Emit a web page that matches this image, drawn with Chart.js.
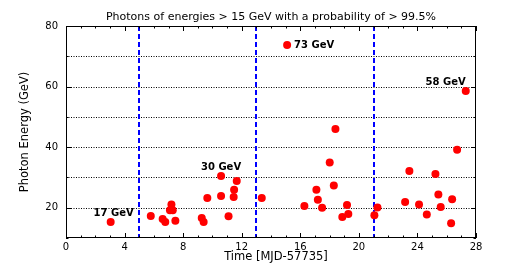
<!DOCTYPE html>
<html>
<head>
<meta charset="utf-8">
<script src="https://cdn.jsdelivr.net/npm/chart.js@4.4.1/dist/chart.umd.min.js"></script>
<style>
  html, body { margin: 0; padding: 0; background: #fff; }
  #wrap { width: 530px; height: 265px; }
</style>
</head>
<body>
<div id="wrap"><canvas id="photonChart" width="530" height="265"></canvas></div>
<script>
// photon arrival time (MJD-57735) and energy (GeV)
const times = [
  3.05, 5.79, 6.6, 6.78, 7.2, 7.1, 7.29, 7.47, 9.27, 9.4, 9.65, 10.59, 10.59, 11.1,
  11.45, 11.48, 11.66, 13.37, 15.1, 16.28, 17.1, 17.2, 17.49, 18.01, 18.29, 18.4,
  18.87, 19.19, 19.28, 21.06, 21.27, 23.16, 23.45, 24.11, 24.64, 25.23, 25.43, 25.59,
  26.3, 26.37, 26.71, 27.3
];
const energies = [
  15.3, 17.3, 16.3, 15.3, 21.1, 19.2, 19.2, 15.7, 16.6, 15.3, 23.2, 30.5, 23.9, 17.2,
  23.5, 25.9, 28.8, 23.2, 73.7, 20.6, 25.9, 22.6, 20.0, 34.9, 27.3, 46.0,
  16.9, 20.9, 17.9, 17.5, 20.1, 21.9, 32.1, 21.1, 17.8, 31.1, 24.4, 20.2,
  14.9, 22.8, 39.1, 58.5
];
const dividerTimes = [5, 13, 21];
const gridEnergies = [20, 30, 40, 50, 60, 70];
const xLabelTicks = [0, 4, 8, 12, 16, 20, 24, 28];
const yLabelTicks = [20, 40, 60, 80];

// labelled photons: index into the arrays, text, placement
const callouts = [
  { i: 0, text: "17 GeV", align: "center", dx: 3, dy: -9 },
  { i: 11, text: "30 GeV", align: "center", dx: 0, dy: -9 },
  { i: 18, text: "73 GeV", align: "left", dx: 7, dy: 0 },
  { i: 41, text: "58 GeV", align: "right", dx: 0, dy: -9 },
];

const points = times.map((t, k) => ({ x: t, y: energies[k] }));
const FONT = "DejaVu Sans";

const framePlugin = {
  id: "frame",
  beforeDatasetsDraw(chart) {
    const { ctx, chartArea: a, scales } = chart;
    const xs = scales.x, ys = scales.y;
    ctx.save();
    // dotted horizontal grid
    ctx.strokeStyle = "#000";
    ctx.lineWidth = 1;
    ctx.setLineDash([1, 1.5]);
    for (const v of gridEnergies) {
      const y = Math.round(ys.getPixelForValue(v)) + 0.5;
      ctx.beginPath();
      ctx.moveTo(a.left, y);
      ctx.lineTo(a.right, y);
      ctx.stroke();
    }
    // blue dashed dividers
    ctx.strokeStyle = "#0000ff";
    ctx.lineWidth = 2;
    ctx.setLineDash([5, 3]);
    for (const t of dividerTimes) {
      const x = Math.round(xs.getPixelForValue(t));
      ctx.beginPath();
      ctx.moveTo(x, a.top);
      ctx.lineTo(x, a.bottom);
      ctx.stroke();
    }
    ctx.restore();
  },
  afterDatasetsDraw(chart) {
    const { ctx, chartArea: a, scales } = chart;
    const xs = scales.x, ys = scales.y;
    ctx.save();
    ctx.strokeStyle = "#000";
    ctx.lineWidth = 1;
    ctx.setLineDash([]);
    ctx.strokeRect(a.left + 0.5, a.top + 0.5, a.right - a.left - 1, a.bottom - a.top - 1);

    // inward ticks, major and minor
    ctx.beginPath();
    for (let v = 0; v <= 28; v++) {
      const x = Math.round(xs.getPixelForValue(v)) + 0.5;
      const len = v % 4 === 0 ? 5 : 2.5;
      ctx.moveTo(x, a.bottom); ctx.lineTo(x, a.bottom - len);
      ctx.moveTo(x, a.top); ctx.lineTo(x, a.top + len);
    }
    for (let v = 10; v <= 80; v += 10) {
      const y = Math.round(ys.getPixelForValue(v)) + 0.5;
      const len = v % 20 === 0 ? 5 : 2.5;
      ctx.moveTo(a.left, y); ctx.lineTo(a.left + len, y);
      ctx.moveTo(a.right, y); ctx.lineTo(a.right - len, y);
    }
    ctx.stroke();

    // callouts
    ctx.fillStyle = "#000";
    ctx.font = "bold 10px '" + FONT + "'";
    ctx.textBaseline = "middle";
    for (const c of callouts) {
      ctx.textAlign = c.align;
      const px = xs.getPixelForValue(times[c.i]) + c.dx;
      const py = ys.getPixelForValue(energies[c.i]) + c.dy;
      ctx.fillText(c.text, px, py);
    }

    // title and axis titles
    const cx = (a.left + a.right) / 2;
    ctx.textAlign = "center";
    ctx.font = "11px '" + FONT + "'";
    ctx.fillText("Photons of energies > 15 GeV with a probability of > 99.5%", cx, 17);
    ctx.font = "11.5px '" + FONT + "'";
    ctx.fillText("Time [MJD-57735]", cx + 5, 257);
    ctx.translate(25, (a.top + a.bottom) / 2);
    ctx.rotate(-Math.PI / 2);
    ctx.fillText("Photon Energy (GeV)", 0, 0);
    ctx.restore();
  },
};

new Chart(document.getElementById("photonChart"), {
  type: "scatter",
  data: {
    datasets: [{
      data: points,
      backgroundColor: "#ff0000",
      borderColor: "#ff0000",
      borderWidth: 0,
      pointRadius: 4,
    }],
  },
  options: {
    responsive: false,
    animation: false,
    devicePixelRatio: 1,
    layout: { padding: { top: 26, right: 54, left: 0, bottom: 0 } },
    plugins: { legend: { display: false }, tooltip: { enabled: false }, title: { display: false } },
    scales: {
      x: {
        type: "linear",
        min: 0,
        max: 28,
        afterFit: (s) => { s.height = 27; },
        afterBuildTicks: (s) => { s.ticks = xLabelTicks.map((v) => ({ value: v })); },
        grid: { display: false, drawTicks: false },
        border: { display: false },
        ticks: { color: "#000", font: { family: FONT, size: 10 }, padding: 3, maxRotation: 0 },
      },
      y: {
        type: "linear",
        min: 10,
        max: 80,
        afterFit: (s) => { s.width = 66; },
        afterBuildTicks: (s) => { s.ticks = yLabelTicks.map((v) => ({ value: v })); },
        grid: { display: false, drawTicks: false },
        border: { display: false },
        ticks: { color: "#000", font: { family: FONT, size: 10 }, padding: 8 },
      },
    },
  },
  plugins: [framePlugin],
});
</script>
</body>
</html>
